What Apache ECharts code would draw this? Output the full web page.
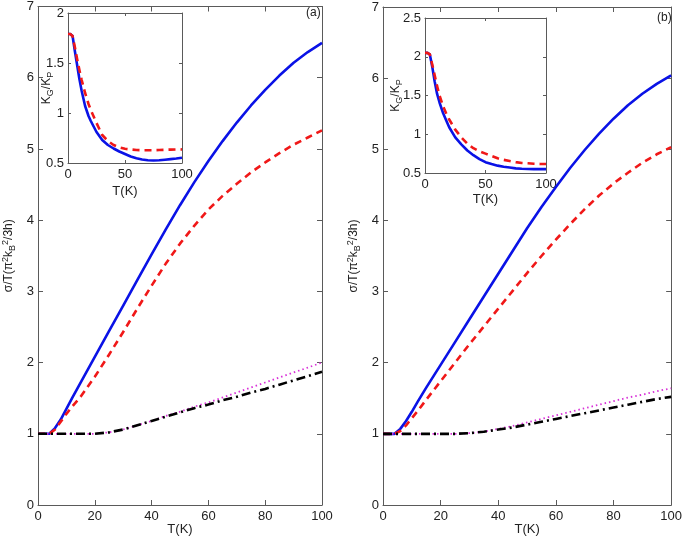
<!DOCTYPE html>
<html>
<head>
<meta charset="utf-8">
<script src="https://cdn.jsdelivr.net/npm/echarts@6/dist/echarts.min.js"></script>
<style>html,body{margin:0;padding:0;background:#fff}#c{width:685px;height:541px}</style>
</head>
<body>
<div id="c"></div>
<script>
// ---------- DATA ----------
const T_MAIN = [0,2,4,6,8,10,12,15,20,25,30,35,40,45,50,55,60,65,70,75,80,85,90,95,100];
// panel (a)
const A_BLUE  = [1,1,1,1.08,1.2,1.35,1.5,1.72,2.08,2.44,2.8,3.16,3.52,3.87,4.21,4.53,4.83,5.11,5.37,5.61,5.83,6.03,6.21,6.36,6.49];
const A_RED   = [1,1,1,1.06,1.17,1.28,1.38,1.52,1.8,2.11,2.43,2.76,3.08,3.39,3.67,3.92,4.15,4.34,4.51,4.67,4.81,4.94,5.06,5.16,5.26];
const A_MAG   = [1,1,1,1,1,1,1,1,1.0,1.02,1.06,1.12,1.18,1.25,1.31,1.38,1.44,1.51,1.58,1.65,1.72,1.79,1.86,1.93,2.0];
const A_BLACK = [1,1,1,1,1,1,1,1,1.0,1.02,1.06,1.12,1.18,1.24,1.3,1.36,1.41,1.47,1.52,1.58,1.63,1.69,1.75,1.81,1.87];
// panel (b)
const B_BLUE  = [1,1,1,1.07,1.18,1.31,1.45,1.65,1.97,2.29,2.61,2.93,3.25,3.57,3.89,4.19,4.47,4.74,4.99,5.22,5.43,5.62,5.78,5.92,6.04];
const B_RED   = [1,1,1,1.04,1.12,1.22,1.32,1.48,1.74,2.0,2.26,2.51,2.76,3.01,3.26,3.5,3.73,3.95,4.16,4.35,4.52,4.67,4.81,4.93,5.03];
const B_MAG   = [1,1,1,1,1,1,1,1,1,1.0,1.01,1.03,1.07,1.11,1.16,1.21,1.26,1.31,1.36,1.41,1.46,1.51,1.55,1.6,1.64];
const B_BLACK = [1,1,1,1,1,1,1,1,1,1.0,1.01,1.03,1.06,1.09,1.13,1.17,1.21,1.25,1.29,1.33,1.37,1.41,1.45,1.49,1.52];
// insets
const T_IN = [0,2,4,6,8,10,12,15,18,20,25,30,35,40,45,50,55,60,65,70,75,80,85,90,95,100];
const IA_BLUE = [1.79,1.79,1.77,1.62,1.48,1.34,1.22,1.07,0.97,0.92,0.81,0.73,0.68,0.645,0.615,0.59,0.565,0.548,0.535,0.527,0.525,0.528,0.533,0.539,0.545,0.553];
const IA_RED  = [1.79,1.79,1.77,1.66,1.54,1.43,1.33,1.2,1.09,1.03,0.9,0.78,0.72,0.68,0.655,0.642,0.635,0.63,0.628,0.628,0.628,0.63,0.632,0.634,0.635,0.636];
const IB_BLUE = [2.05,2.05,2.03,1.87,1.68,1.52,1.41,1.27,1.16,1.09,0.96,0.87,0.79,0.73,0.68,0.64,0.615,0.595,0.58,0.57,0.56,0.555,0.552,0.55,0.55,0.55];
const IB_RED  = [2.05,2.05,2.03,1.9,1.76,1.62,1.5,1.36,1.25,1.19,1.06,0.96,0.88,0.82,0.78,0.75,0.72,0.69,0.67,0.655,0.64,0.63,0.625,0.62,0.617,0.616];

const MAIN_X_TICKS = {min:0, max:100, interval:20};
const MAIN_Y_TICKS = {min:0, max:7, interval:1};
const INA_Y = {min:0.5, max:2, interval:0.5};
const INB_Y = {min:0.5, max:2.5, interval:0.5};
const IN_X = {min:0, max:100, interval:50};

// ---------- CHART ----------
const FONT = 'Liberation Sans, Arial, Helvetica, sans-serif';
const AXC = '#5a5a5a';
const TXT = '#222';
const pairs = (xs, ys) => xs.map((x,i)=>[x, ys[i]]);

const grids = [
  {left:38, top:5, width:284, height:500},
  {left:383, top:7, width:292, height:501},
  {left:68, top:13, width:114, height:150, show:true, backgroundColor:'#fff', borderWidth:0},
  {left:425, top:18, width:121, height:155, show:true, backgroundColor:'#fff', borderWidth:0}
];

const richName = {
  sup:{fontSize:9, verticalAlign:'top', lineHeight:10, fontFamily:FONT, color:TXT},
  sub:{fontSize:9, verticalAlign:'bottom', lineHeight:10, fontFamily:FONT, color:TXT}
};

function xPair(gi, t, tickLen, name, gap){
  const base = {type:'value', gridIndex:gi, min:t.min, max:t.max, interval:t.interval,
    splitLine:{show:false}, axisLine:{show:true, onZero:false, lineStyle:{color:AXC, width:1}},
    axisTick:{show:true, inside:true, length:tickLen, lineStyle:{color:AXC}}};
  return [
    Object.assign({}, base, {position:'bottom', name:name, nameLocation:'middle', nameGap:gap, nameMoveOverlap:false,
      nameTextStyle:{fontFamily:FONT, fontSize:13, color:TXT},
      axisLabel:{show:true, margin:5, fontFamily:FONT, fontSize:13, color:TXT}}),
    Object.assign({}, base, {position:'top', axisLabel:{show:false}})
  ];
}
function yPair(gi, t, tickLen, name, gap, fmt){
  const base = {type:'value', gridIndex:gi, min:t.min, max:t.max, interval:t.interval,
    splitLine:{show:false}, axisLine:{show:true, onZero:false, lineStyle:{color:AXC, width:1}},
    axisTick:{show:true, inside:true, length:tickLen, lineStyle:{color:AXC}}};
  return [
    Object.assign({}, base, {position:'left', name:name, nameLocation:'middle', nameGap:gap, nameRotate:90, nameMoveOverlap:false,
      nameTextStyle:{fontFamily:FONT, fontSize:12, color:TXT, lineHeight:16, rich:richName},
      axisLabel:{show:true, margin:4, fontFamily:FONT, fontSize:13, color:TXT, formatter:fmt}}),
    Object.assign({}, base, {position:'right', axisLabel:{show:false}})
  ];
}
const fmtPlain = v => String(v);

const xAxes = [].concat(
  xPair(0, MAIN_X_TICKS, 5, 'T(K)', 18),
  xPair(1, MAIN_X_TICKS, 5, 'T(K)', 18),
  xPair(2, IN_X, 3, 'T(K)', 22),
  xPair(3, IN_X, 3, 'T(K)', 20)
);
const mainName = 'σ/T(π{sup|2}k{sub|B}{sup|2}/3h)';
const inName = 'K{sub|G}/K{sub|P}';
const yAxes = [].concat(
  yPair(0, MAIN_Y_TICKS, 5, mainName, 21, fmtPlain),
  yPair(1, MAIN_Y_TICKS, 5, mainName, 21, fmtPlain),
  yPair(2, INA_Y, 3, inName, 13, fmtPlain),
  yPair(3, INB_Y, 3, inName, 21, fmtPlain)
);

function line(xi, yi, data, color, width, type, z){
  return {type:'line', xAxisIndex:xi, yAxisIndex:yi, data:data, showSymbol:false, symbol:'none',
    smooth:false, z:z||2, animation:false,
    lineStyle:{color:color, width:width, type:type, cap:'butt', join:'round'}};
}
const BLUE='#0a12e6', RED='#f01818', MAG='#d830d8', BLACK='#000';
const DASH=[7,5], DASHDOT=[9,4,2,4], DOT=[1.5,3];

const series = [
  line(0,0,pairs(T_MAIN,A_BLUE),BLUE,2.6,'solid',2),
  line(0,0,pairs(T_MAIN,A_RED),RED,2.6,DASH,3),
  line(0,0,pairs(T_MAIN,A_MAG),MAG,1.8,DOT,4),
  line(0,0,pairs(T_MAIN,A_BLACK),BLACK,2.6,DASHDOT,5),
  line(2,2,pairs(T_MAIN,B_BLUE),BLUE,2.6,'solid',2),
  line(2,2,pairs(T_MAIN,B_RED),RED,2.6,DASH,3),
  line(2,2,pairs(T_MAIN,B_MAG),MAG,1.8,DOT,4),
  line(2,2,pairs(T_MAIN,B_BLACK),BLACK,2.6,DASHDOT,5),
  line(4,4,pairs(T_IN,IA_BLUE),BLUE,2.6,'solid',2),
  line(4,4,pairs(T_IN,IA_RED),RED,2.6,DASH,3),
  line(6,6,pairs(T_IN,IB_BLUE),BLUE,2.6,'solid',2),
  line(6,6,pairs(T_IN,IB_RED),RED,2.6,DASH,3)
];

const chart = echarts.init(document.getElementById('c'), null, {renderer:'canvas', width:685, height:541});
chart.setOption({
  backgroundColor:'#fff',
  animation:false,
  grid:grids,
  xAxis:xAxes,
  yAxis:yAxes,
  series:series,
  graphic:[
    {type:'text', left:306, top:7, style:{text:'(a)', font:'12px '+FONT, fill:TXT}},
    {type:'text', left:657, top:12, style:{text:'(b)', font:'12px '+FONT, fill:TXT}}
  ]
});
</script>
</body>
</html>
